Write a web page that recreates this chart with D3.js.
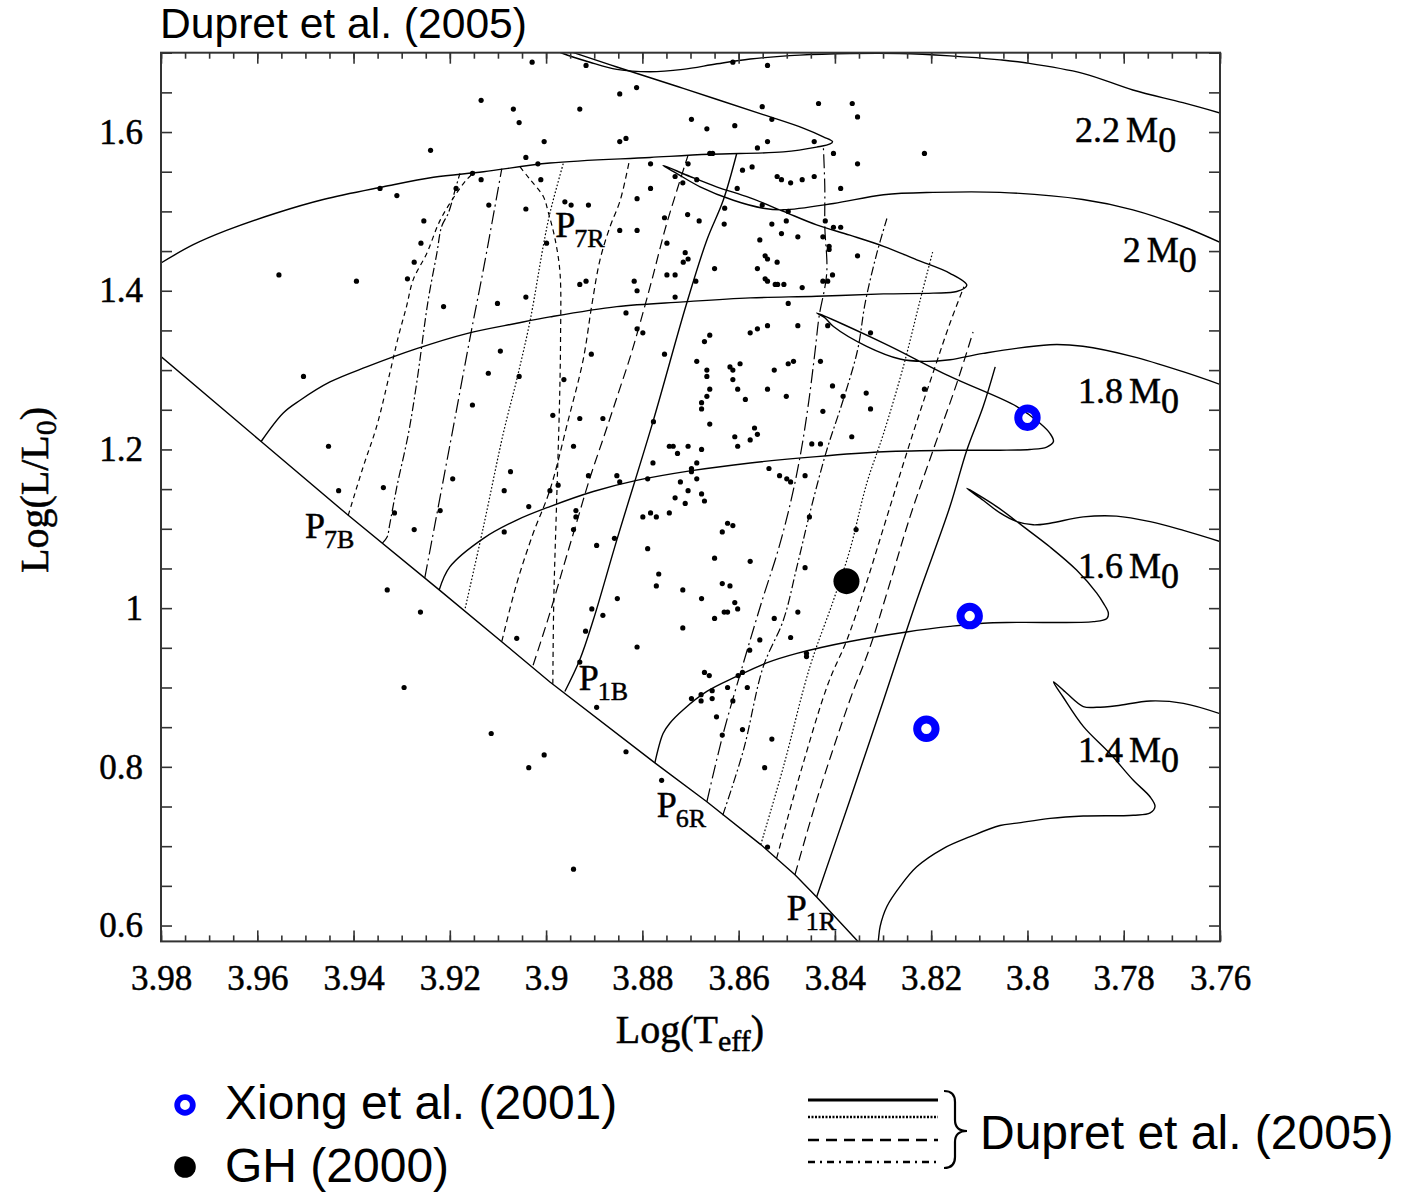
<!DOCTYPE html>
<html><head><meta charset="utf-8">
<script src="https://cdn.jsdelivr.net/npm/d3@7"></script>
<style>body{margin:0;background:#fff}svg{display:block}</style>
</head><body>
<svg id="chart" width="1403" height="1192"></svg>
<script>
// ---- axis values ----
const xMajor = [3.98,3.96,3.94,3.92,3.9,3.88,3.86,3.84,3.82,3.8,3.78,3.76];
const xMinor = d3.range(0,45).map(i => +(3.76 + i*0.005).toFixed(3));
const yMajor = [0.6,0.8,1.0,1.2,1.4,1.6];
const yMinor = d3.range(0,23).map(i => +(0.6 + i*0.05).toFixed(2));

// ---- evolutionary tracks: [logTeff, logL] ----
const zams = [[3.98,1.317],[3.9592,1.210],[3.9411,1.117],[3.9222,1.023],[3.9071,0.947],[3.8992,0.907],[3.8774,0.805],[3.8666,0.756],[3.8554,0.702],[3.8483,0.664],[3.8438,0.636],[3.8352,0.580]];
const track22 = [[3.98,1.435],[3.9733,1.458],[3.9664,1.476],[3.9560,1.498],[3.9463,1.515],[3.9338,1.531],[3.9234,1.543],[3.9130,1.550],[3.8992,1.561],[3.8784,1.568],[3.8660,1.572],[3.8507,1.575],[3.8438,1.581],[3.8410,1.585],[3.8405,1.588],[3.8424,1.594],[3.8466,1.605],[3.8549,1.622],[3.8715,1.655],[3.8853,1.682],[3.8943,1.700],[3.8971,1.706]];
const track22b = [[3.8990,1.706],[3.8965,1.699],[3.8909,1.688],[3.8853,1.679],[3.8784,1.676],[3.8716,1.679],[3.8645,1.686],[3.8576,1.692],[3.8473,1.697],[3.8369,1.699],[3.8265,1.699],[3.8161,1.696],[3.8057,1.691],[3.8001,1.687],[3.7885,1.674],[3.7781,1.653],[3.7677,1.637],[3.76,1.624]];
const track20 = [[3.9592,1.210],[3.9546,1.246],[3.9511,1.262],[3.9449,1.285],[3.9373,1.304],[3.9269,1.327],[3.9165,1.346],[3.9061,1.359],[3.8992,1.367],[3.8853,1.380],[3.8715,1.386],[3.8576,1.391],[3.8438,1.393],[3.8299,1.396],[3.8196,1.397],[3.8147,1.399],[3.8126,1.407],[3.8161,1.422],[3.8230,1.439],[3.8299,1.456],[3.8369,1.470],[3.8438,1.483],[3.8507,1.500],[3.8576,1.517],[3.8646,1.531],[3.8701,1.544],[3.8757,1.558],[3.8729,1.548],[3.8680,1.531],[3.8611,1.514],[3.8549,1.504],[3.8507,1.502],[3.8403,1.510],[3.8299,1.521],[3.8196,1.524],[3.8057,1.524],[3.7885,1.515],[3.7781,1.502],[3.7677,1.481],[3.76,1.461]];
const track18 = [[3.9222,1.023],[3.9200,1.052],[3.9130,1.088],[3.9061,1.111],[3.8992,1.128],[3.8902,1.147],[3.8812,1.161],[3.8701,1.173],[3.8576,1.183],[3.8438,1.191],[3.8299,1.197],[3.8161,1.199],[3.8057,1.199],[3.7995,1.200],[3.7960,1.203],[3.7946,1.210],[3.7953,1.220],[3.7974,1.233],[3.8022,1.254],[3.8161,1.292],[3.8299,1.334],[3.8438,1.372],[3.8421,1.366],[3.8403,1.355],[3.8334,1.330],[3.8265,1.314],[3.8216,1.311],[3.8161,1.313],[3.8092,1.321],[3.7953,1.332],[3.7885,1.330],[3.7781,1.317],[3.7677,1.298],[3.76,1.282]];
const track16 = [[3.8774,0.805],[3.8757,0.842],[3.8743,0.855],[3.8715,0.872],[3.8666,0.895],[3.8604,0.914],[3.8542,0.931],[3.8479,0.943],[3.8369,0.958],[3.8251,0.970],[3.8161,0.977],[3.8092,0.981],[3.8022,0.982],[3.7863,0.983],[3.7835,0.987],[3.7832,0.994],[3.7842,1.006],[3.7856,1.019],[3.7898,1.048],[3.7953,1.077],[3.8009,1.103],[3.8064,1.128],[3.8126,1.151],[3.8092,1.136],[3.8057,1.120],[3.8022,1.109],[3.7988,1.105],[3.7953,1.107],[3.7884,1.115],[3.7815,1.116],[3.7745,1.109],[3.7676,1.098],[3.76,1.084]];
const track14 = [[3.8313,0.569],[3.8310,0.580],[3.8306,0.599],[3.8292,0.624],[3.8265,0.649],[3.8230,0.674],[3.8175,0.697],[3.8119,0.712],[3.8057,0.726],[3.8022,0.729],[3.7953,0.735],[3.7884,0.738],[3.7780,0.739],[3.7745,0.742],[3.7735,0.750],[3.7745,0.762],[3.7780,0.783],[3.7829,0.817],[3.7884,0.851],[3.7926,0.888],[3.7946,0.907],[3.7919,0.893],[3.7884,0.876],[3.7856,0.875],[3.7815,0.877],[3.7745,0.883],[3.7676,0.880],[3.76,0.867]];

// ---- blue (B) and red (R) edges of the radial modes ----
const p7B = [[3.9411,1.117],[3.9380,1.178],[3.9352,1.229],[3.9324,1.298],[3.9307,1.342],[3.9290,1.380],[3.9276,1.414],[3.9248,1.447],[3.9220,1.489],[3.9186,1.523],[3.9165,1.540],[3.9148,1.550]];
const p6B = [[3.9340,1.082],[3.9330,1.090],[3.9325,1.105],[3.9310,1.153],[3.9286,1.220],[3.9269,1.283],[3.9245,1.388],[3.9227,1.447],[3.9217,1.481],[3.9203,1.498],[3.9189,1.527],[3.9179,1.548]];
const p5B = [[3.9252,1.038],[3.9195,1.221],[3.9156,1.347],[3.9129,1.431],[3.9092,1.554]];
const p4B = [[3.9168,1.000],[3.9130,1.103],[3.9089,1.220],[3.9061,1.288],[3.9033,1.363],[3.9006,1.456],[3.8992,1.498],[3.8964,1.561]];
const p3B = [[3.9092,0.958],[3.9061,1.031],[3.9027,1.094],[3.8992,1.149],[3.8954,1.237],[3.8923,1.313],[3.8905,1.382],[3.8888,1.439],[3.8867,1.481],[3.8846,1.514],[3.8826,1.567]];
const p2B = [[3.9027,0.928],[3.8992,0.994],[3.8964,1.052],[3.8938,1.105],[3.8909,1.164],[3.8880,1.216],[3.8851,1.269],[3.8824,1.319],[3.8803,1.363],[3.8780,1.414],[3.8753,1.477],[3.8728,1.527],[3.8705,1.571]];
const p1B = [[3.8961,0.895],[3.8930,0.935],[3.8902,0.985],[3.8853,1.086],[3.8777,1.237],[3.8709,1.382],[3.8666,1.464],[3.8632,1.514],[3.8604,1.573]];
const p7R = [[3.9054,1.556],[3.9033,1.540],[3.9006,1.519],[3.8995,1.498],[3.8981,1.464],[3.8971,1.422],[3.8970,1.338],[3.8972,1.262],[3.8978,1.136],[3.8984,1.010],[3.8986,0.904]];
const p6R = [[3.8666,0.756],[3.8632,0.842],[3.8590,0.931],[3.8551,1.010],[3.8518,1.073],[3.8491,1.136],[3.8470,1.199],[3.8454,1.262],[3.8441,1.325],[3.8433,1.367],[3.8417,1.422],[3.8421,1.481],[3.8421,1.531],[3.8424,1.582]];
const p5R = [[3.8633,0.739],[3.8590,0.821],[3.8549,0.926],[3.8507,0.985],[3.8479,1.052],[3.8452,1.120],[3.8417,1.199],[3.8383,1.262],[3.8353,1.325],[3.8337,1.385],[3.8313,1.447],[3.8292,1.491]];
const p4R = [[3.8554,0.702],[3.8507,0.800],[3.8452,0.926],[3.8403,1.010],[3.8369,1.073],[3.8334,1.157],[3.8299,1.220],[3.8258,1.304],[3.8223,1.388],[3.8196,1.451]];
const p3R = [[3.8521,0.685],[3.8468,0.800],[3.8414,0.905],[3.8375,0.960],[3.8335,1.031],[3.8292,1.115],[3.8238,1.220],[3.8192,1.304],[3.8161,1.359],[3.8132,1.405]];
const p2R = [[3.8483,0.664],[3.8438,0.758],[3.8369,0.884],[3.8327,0.951],[3.8290,1.023],[3.8244,1.115],[3.8196,1.199],[3.8147,1.283],[3.8113,1.348]];
const p1R = [[3.8438,0.636],[3.8369,0.758],[3.8299,0.884],[3.8230,1.010],[3.8161,1.128],[3.8126,1.199],[3.8092,1.254],[3.8067,1.304]];

// ---- observed stars ----
const stars = [[3.9029,1.688],[3.9135,1.640],[3.9068,1.629],[3.9056,1.612],[3.9004,1.588],[3.9240,1.577],[3.9042,1.568],[3.9017,1.560],[3.9153,1.548],[3.9135,1.540],[3.9011,1.540],[3.9345,1.529],[3.9187,1.529],[3.9310,1.520],[3.9119,1.508],[3.9042,1.503],[3.9254,1.488],[3.9260,1.460],[3.8999,1.460],[3.9274,1.436],[3.9555,1.420],[3.9394,1.412],[3.9288,1.415],[3.9042,1.392],[3.9213,1.380],[3.9101,1.384],
[3.8917,1.684],[3.8612,1.688],[3.8540,1.684],[3.8812,1.656],[3.8847,1.648],[3.8930,1.629],[3.8551,1.632],[3.8434,1.636],[3.8364,1.636],[3.8353,1.619],[3.8531,1.616],[3.8698,1.616],[3.8666,1.604],[3.8608,1.608],[3.8847,1.588],[3.8834,1.592],[3.8561,1.580],[3.8540,1.588],[3.8443,1.588],[3.8403,1.573],[3.8660,1.573],[3.8654,1.573],[3.8214,1.573],[3.8783,1.560],[3.8705,1.560],[3.8592,1.552],[3.8572,1.556],[3.8353,1.560],[3.8732,1.544],[3.8716,1.536],[3.8687,1.540],[3.8520,1.544],[3.8511,1.540],[3.8492,1.536],[3.8468,1.540],[3.8443,1.544],[3.8783,1.529],[3.8603,1.529],[3.8388,1.529],[3.8961,1.512],[3.8948,1.508],[3.8912,1.508],[3.8551,1.508],[3.8811,1.516],[3.8629,1.504],[3.8497,1.500],[3.8706,1.496],[3.8682,1.488],[3.8754,1.492],[3.8501,1.488],[3.8630,1.484],[3.8420,1.488],[3.8531,1.484],[3.8403,1.480],[3.8388,1.480],[3.8847,1.476],[3.8811,1.476],[3.8511,1.472],[3.8477,1.468],[3.8425,1.468],[3.8556,1.464],[3.8749,1.460],[3.8412,1.456],[3.8412,1.452],[3.8711,1.448],[3.8705,1.440],[3.8715,1.436],[3.8545,1.444],[3.8540,1.440],[3.8520,1.436],[3.8353,1.444],[3.8650,1.428],[3.8561,1.428],[3.8749,1.420],[3.8732,1.420],[3.8689,1.412],[3.8545,1.415],[3.8540,1.412],[3.8524,1.408],[3.8519,1.408],[3.8506,1.408],[3.8468,1.404],[3.8425,1.412],[3.8415,1.412],[3.8405,1.420],[3.8930,1.408],[3.8917,1.412],[3.8817,1.412],[3.8811,1.400],[3.8732,1.392],[3.8497,1.384],[3.8834,1.372],[3.8811,1.352],[3.8799,1.347],[3.8660,1.344],[3.8576,1.347],[3.8561,1.352],[3.8540,1.356],[3.8477,1.356],[3.8415,1.356],[3.8326,1.347],
[3.9095,1.324],[3.9504,1.292],[3.9120,1.296],[3.9056,1.292],[3.9153,1.256],[3.9452,1.204],[3.9074,1.172],[3.9194,1.163],[3.9431,1.148],[3.9338,1.152],[3.9087,1.148],[3.8992,1.148],[3.9036,1.128],[3.9315,1.120],[3.9220,1.123],[3.9274,1.099],[3.9087,1.096],[3.9330,1.023],[3.9261,0.995],[3.9061,0.962],
[3.8906,1.320],[3.8754,1.320],[3.8671,1.336],[3.8963,1.288],[3.8986,1.243],[3.8930,1.239],[3.8882,1.239],[3.8943,1.204],[3.8777,1.235],[3.8687,1.311],[3.8666,1.300],[3.8666,1.292],[3.8618,1.304],[3.8612,1.300],[3.8597,1.308],[3.8612,1.288],[3.8602,1.276],[3.8586,1.263],[3.8660,1.276],[3.8666,1.267],[3.8677,1.259],[3.8677,1.251],[3.8660,1.232],[3.8526,1.300],[3.8497,1.308],[3.8486,1.311],[3.8430,1.311],[3.8540,1.276],[3.8501,1.267],[3.8405,1.280],[3.8383,1.267],[3.8425,1.248],[3.8335,1.271],[3.8326,1.251],[3.8214,1.276],[3.8567,1.227],[3.8561,1.219],[3.8576,1.212],[3.8608,1.216],[3.8602,1.204],[3.8448,1.207],[3.8430,1.207],[3.8365,1.216],[3.8744,1.204],[3.8736,1.204],[3.8705,1.204],[3.8727,1.195],[3.8677,1.200],[3.8687,1.183],[3.8698,1.176],[3.8698,1.172],[3.8687,1.163],[3.8721,1.159],[3.8705,1.148],[3.8677,1.144],[3.8671,1.135],[3.8732,1.139],[3.8711,1.132],[3.8778,1.183],[3.8789,1.163],[3.8853,1.167],[3.8847,1.159],[3.8912,1.167],[3.8975,1.155],[3.8938,1.123],[3.8938,1.115],[3.8943,1.099],[3.8799,1.115],[3.8783,1.120],[3.8771,1.115],[3.8744,1.120],[3.8537,1.176],[3.8515,1.167],[3.8500,1.163],[3.8492,1.159],[3.8462,1.167],[3.8858,1.088],[3.8895,1.079],[3.8789,1.075],[3.8623,1.107],[3.8612,1.104],[3.8634,1.096],[3.8453,1.115],[3.8356,1.099],[3.8650,1.063],[3.8576,1.059],[3.8462,1.051],[3.8766,1.043],[3.8771,1.028],[3.8716,1.023],[3.8634,1.031],[3.8618,1.028],[3.8677,1.012],[3.8852,1.012],[3.8905,0.999],[3.8882,0.991],[3.8918,0.971],[3.8608,1.007],[3.8602,0.999],[3.8650,0.987],[3.8630,0.995],[3.8623,0.995],[3.8716,0.975],[3.8526,0.987],[3.8477,0.995],[3.8492,0.963],[3.8556,0.960],[3.8811,0.951],
[3.8577,0.947],[3.8459,0.943],[3.8459,0.939],[3.8895,0.875],[3.8930,0.932],[3.8671,0.919],[3.8661,0.915],[3.8601,0.915],[3.8592,0.919],[3.8623,0.900],[3.8582,0.900],[3.8655,0.896],[3.8678,0.891],[3.8698,0.886],[3.8678,0.883],[3.8655,0.886],[3.8612,0.883],[3.8646,0.863],[3.8592,0.847],[3.8634,0.840],[3.8531,0.835],[3.8546,0.799],[3.8834,0.819],[3.8760,0.783],[3.8943,0.671],[3.8540,0.699],
[3.9295,0.900],[3.9114,0.842],[3.9004,0.815],[3.9036,0.799]];

const xiong = [[3.800,1.240],[3.812,0.990],[3.821,0.848]];
const gh = [[3.8376,1.034]];

// ---- annotation anchors ----
const massLabels = [
  {t:3.7901, l:1.5875, txt:"2.2"},
  {t:3.7802, l:1.4362, txt:"2"},
  {t:3.7895, l:1.2586, txt:"1.8"},
  {t:3.7895, l:1.0380, txt:"1.6"},
  {t:3.7895, l:0.8061, txt:"1.4"}
];
const edgeLabels = [
  {t:3.8981, l:1.4677, sub:"7R"},
  {t:3.9501, l:1.0884, sub:"7B"},
  {t:3.8932, l:0.8969, sub:"1B"},
  {t:3.8770, l:0.7368, sub:"6R"},
  {t:3.8500, l:0.6070, sub:"1R"}
];

const x = d3.scaleLinear().domain([3.98, 3.76]).range([161, 1220]);
const y = d3.scaleLinear().domain([0.58, 1.7]).range([941.4, 52.7]);
const svg = d3.select("#chart");
const serif = "'Liberation Serif','Times New Roman',serif";
const sans = "'Liberation Sans',Arial,sans-serif";

svg.append("defs").append("clipPath").attr("id","plot")
  .append("rect").attr("x",161).attr("y",52.7).attr("width",1059).attr("height",888.7);

const line = d3.line().x(d => x(d[0])).y(d => y(d[1])).curve(d3.curveCatmullRom.alpha(0.5));
const lineStraight = d3.line().x(d => x(d[0])).y(d => y(d[1]));
const g = svg.append("g").attr("clip-path","url(#plot)");

// ZAMS and tracks
const solid = [zams, track22, track22b, track20, track18, track16, track14];
solid.forEach((d,i) => g.append("path").datum(d)
  .attr("d", i === 0 ? lineStraight : line)
  .attr("fill","none").attr("stroke","#000").attr("stroke-width",1.4));

// instability edges
const edges = [
  {d:p7B, dash:"5,4"}, {d:p6B, dash:"9,3,2,3"}, {d:p5B, dash:"14,4,2,4"}, {d:p4B, dash:"1.6,2"},
  {d:p3B, dash:"6,4"}, {d:p2B, dash:"10,5"}, {d:p1B, dash:null},
  {d:p7R, dash:"5,4"}, {d:p6R, dash:"14,4,2,4"}, {d:p5R, dash:"9,3,2,3"}, {d:p4R, dash:"1.6,2"},
  {d:p3R, dash:"6,4"}, {d:p2R, dash:"10,5"}, {d:p1R, dash:null}
];
edges.forEach(e => g.append("path").datum(e.d).attr("d", line)
  .attr("fill","none").attr("stroke","#000").attr("stroke-width", e.dash ? 1.2 : 1.4)
  .attr("stroke-dasharray", e.dash));

// stars
g.append("g").selectAll("circle").data(stars).join("circle")
  .attr("cx", d => x(d[0])).attr("cy", d => y(d[1])).attr("r", 2.6).attr("fill","#000");
g.append("g").selectAll("circle").data(gh).join("circle")
  .attr("cx", d => x(d[0])).attr("cy", d => y(d[1])).attr("r", 13).attr("fill","#000");
g.append("g").selectAll("circle").data(xiong).join("circle")
  .attr("cx", d => x(d[0])).attr("cy", d => y(d[1])).attr("r", 9.2)
  .attr("fill","none").attr("stroke","#0000ff").attr("stroke-width",8);

// axes with inward ticks on all four sides
function styleAxis(sel){ sel.select(".domain").remove(); sel.selectAll("line").attr("stroke","#333").attr("stroke-width",1.6); }
const fmt = d => String(+d.toFixed(2));
function styleText(sel){ sel.attr("font-family",serif).attr("font-size",35).attr("fill","#000")
  .attr("stroke","#000").attr("stroke-width",0.5); }
svg.append("g").attr("transform","translate(0,941.4)")
  .call(d3.axisBottom(x).tickValues(xMinor).tickSize(-6).tickFormat("")).call(styleAxis);
svg.append("g").attr("transform","translate(0,941.4)")
  .call(d3.axisBottom(x).tickValues(xMajor).tickSize(-11).tickPadding(24).tickFormat(fmt)).call(styleAxis)
  .selectAll("text").call(styleText);
svg.append("g").attr("transform","translate(0,52.7)")
  .call(d3.axisTop(x).tickValues(xMinor).tickSize(-6).tickFormat("")).call(styleAxis);
svg.append("g").attr("transform","translate(0,52.7)")
  .call(d3.axisTop(x).tickValues(xMajor).tickSize(-11).tickFormat("")).call(styleAxis);
svg.append("g").attr("transform","translate(161,0)")
  .call(d3.axisLeft(y).tickValues(yMinor).tickSize(-11).tickFormat("")).call(styleAxis);
svg.append("g").attr("transform","translate(161,0)")
  .call(d3.axisLeft(y).tickValues(yMajor).tickSize(0).tickPadding(18).tickFormat(fmt)).call(styleAxis)
  .selectAll("text").call(styleText);
svg.append("g").attr("transform","translate(1220,0)")
  .call(d3.axisRight(y).tickValues(yMinor).tickSize(-11).tickFormat("")).call(styleAxis);
svg.append("rect").attr("x",161).attr("y",52.7).attr("width",1059).attr("height",888.7)
  .attr("fill","none").attr("stroke","#333").attr("stroke-width",2);

// mass labels
massLabels.forEach(m => {
  const t = svg.append("text").attr("x", x(m.t)).attr("y", y(m.l))
    .attr("font-family",serif).attr("font-size",36).attr("fill","#000")
    .attr("stroke","#000").attr("stroke-width",0.5);
  t.append("tspan").text(m.txt);
  t.append("tspan").attr("dx",6).text("M");
  t.append("tspan").attr("dy",10).text("0");
});
// edge labels
edgeLabels.forEach(p => {
  const t = svg.append("text").attr("x", x(p.t)).attr("y", y(p.l))
    .attr("font-family",serif).attr("font-size",36).attr("fill","#000")
    .attr("stroke","#000").attr("stroke-width",0.5);
  t.append("tspan").text("P");
  t.append("tspan").attr("dx",-1).attr("dy",10).attr("font-size",26).text(p.sub);
});

// axis titles
const xt = svg.append("text").attr("x",690).attr("y",1043).attr("text-anchor","middle")
  .attr("font-family",serif).attr("font-size",40).attr("fill","#000")
  .attr("stroke","#000").attr("stroke-width",0.5);
xt.append("tspan").text("Log(T");
xt.append("tspan").attr("dy",8).attr("font-size",30).text("eff");
xt.append("tspan").attr("dy",-8).text(")");
const yt = svg.append("text").attr("transform","translate(48,490) rotate(-90)").attr("text-anchor","middle")
  .attr("font-family",serif).attr("font-size",40).attr("fill","#000")
  .attr("stroke","#000").attr("stroke-width",0.5);
yt.append("tspan").text("Log(L/L");
yt.append("tspan").attr("dy",8).attr("font-size",30).text("0");
yt.append("tspan").attr("dy",-8).text(")");

// title
svg.append("text").attr("x",160).attr("y",38).attr("font-family",sans).attr("font-size",42.6)
  .attr("fill","#000").text("Dupret et al. (2005)");

// legend
svg.append("circle").attr("cx",185).attr("cy",1105).attr("r",7.8).attr("fill","none")
  .attr("stroke","#0000ff").attr("stroke-width",5.8);
svg.append("circle").attr("cx",185).attr("cy",1167).attr("r",10.8).attr("fill","#000");
svg.append("text").attr("x",225).attr("y",1119).attr("font-family",sans).attr("font-size",48).text("Xiong et al. (2001)");
svg.append("text").attr("x",225).attr("y",1182).attr("font-family",sans).attr("font-size",48).text("GH (2000)");
const legY = [1100,1117,1140,1162];
const legDash = [null, "2,1.5", "11,7", "7,5,2,5"];
legDash.forEach((dsh,i) => svg.append("line").attr("x1",808).attr("x2",938)
  .attr("y1",legY[i]).attr("y2",legY[i])
  .attr("stroke","#000").attr("stroke-width", i===0 ? 2.8 : 2.4).attr("stroke-dasharray", dsh));
svg.append("path").attr("d","M944,1091 Q955,1091 955,1102 L955,1120 Q955,1131 967,1131 Q955,1131 955,1142 L955,1157 Q955,1168 944,1168")
  .attr("fill","none").attr("stroke","#000").attr("stroke-width",2.2);
svg.append("text").attr("x",980).attr("y",1149).attr("font-family",sans).attr("font-size",48).text("Dupret et al. (2005)");
</script>
</body></html>
